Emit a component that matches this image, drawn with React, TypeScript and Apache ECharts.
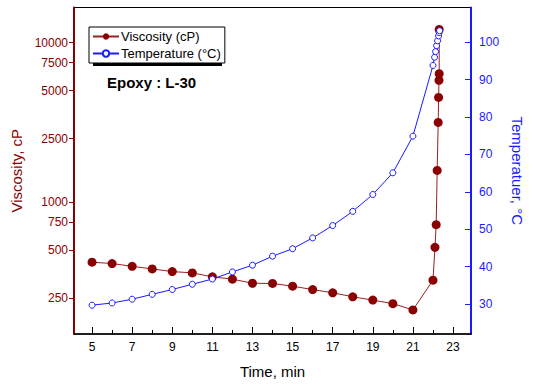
import React, { useEffect, useRef } from "react";
import * as echarts from "echarts";

const viscTime = [5, 6, 7, 8, 9, 10, 11, 12, 13, 14, 15, 16, 17, 18, 19, 20, 21, 22.0, 22.1, 22.16, 22.21, 22.26, 22.28, 22.3, 22.31, 22.31];
const viscosity = [420, 412, 396, 381, 367, 360, 340, 329, 310, 309, 297, 283, 270, 255, 243, 231, 211, 324, 521, 722, 1580, 3160, 4530, 5800, 6380, 12100];
const tempTime = [5, 6, 7, 8, 9, 10, 11, 12, 13, 14, 15, 16, 17, 18, 19, 20, 21, 22.0, 22.08, 22.13, 22.18, 22.23, 22.28, 22.31, 22.33];
const temperature = [29.7, 30.3, 31.3, 32.6, 33.9, 35.3, 36.7, 38.6, 40.4, 42.8, 44.8, 47.7, 51.0, 54.8, 59.3, 65.1, 74.9, 93.8, 96.0, 97.5, 99.1, 100.4, 101.7, 102.6, 103.1];
const xTicks = [5, 6, 7, 8, 9, 10, 11, 12, 13, 14, 15, 16, 17, 18, 19, 20, 21, 22, 23];
const xLabels = [5, 7, 9, 11, 13, 15, 17, 19, 21, 23];
const viscTicks = [250, 500, 750, 1000, 2500, 5000, 7500, 10000];
const tempTicks = [30, 40, 50, 60, 70, 80, 90, 100];

const MAROON = "#8b0000";
const BLUE = "#1a1aff";
const FONT = "Liberation Sans, Arial, sans-serif";

export default function App() {
  const ref = useRef<HTMLDivElement>(null);
  useEffect(() => {
    if (!ref.current) return;
    const chart = echarts.init(ref.current, null, { renderer: "svg" });
    chart.setOption({
      animation: false,
      textStyle: { fontFamily: FONT },
      grid: {
        left: 74, right: 49.5, top: 7.5, bottom: 49,
        show: true, borderColor: "#000", borderWidth: 1, backgroundColor: "transparent",
      },
      legend: {
        orient: "vertical",
        left: 89, top: 27,
        padding: [3, 4, 3, 3],
        itemGap: 4,
        itemWidth: 26,
        itemHeight: 8,
        backgroundColor: "#fff",
        borderColor: "#000",
        borderWidth: 1,
        borderRadius: 0,
        z: 5,
        textStyle: { fontFamily: FONT, fontSize: 13, color: "#000", padding: [0, 0, 0, -3] },
        data: ["Viscosity (cP)", "Temperature (°C)"],
      },
      graphic: [
        {
          type: "rect", z: 4, shape: { x: 93, y: 31, width: 129, height: 35 },
          style: { fill: "#000" },
        },
        {
          type: "text", left: 107, top: 75,
          style: { text: "Epoxy : L-30", font: `bold 15px ${FONT}`, fill: "#000" },
        },
      ],
      xAxis: [
        {
          type: "value", min: 4.1, max: 23.9,
          name: "Time, min", nameLocation: "middle", nameGap: 30,
          nameTextStyle: { fontSize: 15, color: "#000", fontFamily: FONT },
          axisLine: { show: true, lineStyle: { color: "#000", width: 1.5 } },
          axisTick: { show: true, inside: true, length: 4, customValues: xTicks, lineStyle: { color: "#000" } },
          axisLabel: { customValues: xLabels, margin: 7, fontSize: 12, color: "#000", fontFamily: FONT },
          splitLine: { show: false },
        },
        {
          type: "value", min: 4.1, max: 23.9, position: "bottom",
          axisLine: { show: false },
          axisTick: { show: true, inside: true, length: 7, customValues: xLabels, lineStyle: { color: "#000" } },
          axisLabel: { show: false },
          splitLine: { show: false },
        },
      ],
      yAxis: [
        {
          type: "log", logBase: 10, min: 149, max: 16600, position: "left",
          name: "Viscosity, cP", nameLocation: "middle", nameGap: 50,
          nameTextStyle: { fontSize: 15, color: MAROON, fontFamily: FONT },
          axisLine: { show: true, lineStyle: { color: MAROON, width: 2 } },
          axisTick: { show: true, inside: false, length: 5, customValues: viscTicks, lineStyle: { color: MAROON } },
          axisLabel: {
            customValues: viscTicks, margin: 6, fontSize: 12, color: MAROON, fontFamily: FONT,
            formatter: (v: number) => String(Math.round(v)),
          },
          splitLine: { show: false },
        },
        {
          type: "value", min: 22, max: 109.3, position: "right",
          name: "Temperatuer, °C", nameLocation: "middle", nameGap: 34, nameRotate: -90,
          nameTextStyle: { fontSize: 15, color: BLUE, fontFamily: FONT },
          axisLine: { show: true, lineStyle: { color: BLUE, width: 2 } },
          axisTick: { show: true, inside: true, length: 6, customValues: tempTicks, lineStyle: { color: BLUE } },
          axisLabel: { customValues: tempTicks, margin: 8, fontSize: 12, color: BLUE, fontFamily: FONT },
          splitLine: { show: false },
        },
      ],
      series: [
        {
          name: "Viscosity (cP)", type: "line", xAxisIndex: 0, yAxisIndex: 0,
          data: viscTime.map((t, i) => [t, viscosity[i]]),
          symbol: "circle", symbolSize: 9,
          lineStyle: { color: "#9b2020", width: 1 },
          itemStyle: { color: MAROON },
        },
        {
          name: "Temperature (°C)", type: "line", xAxisIndex: 0, yAxisIndex: 1,
          data: tempTime.map((t, i) => [t, temperature[i]]),
          symbol: "circle", symbolSize: 6,
          lineStyle: { color: BLUE, width: 1 },
          itemStyle: { color: "#fff", borderColor: BLUE, borderWidth: 1 },
        },
      ],
    });
    return () => chart.dispose();
  }, []);
  return <div ref={ref} style={{ width: 533, height: 384, position: "absolute", left: 0, top: 0 }} />;
}
